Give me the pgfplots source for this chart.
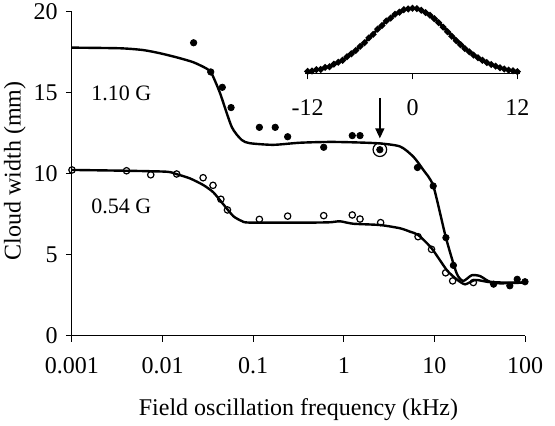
\documentclass[border=0pt]{standalone}
\usepackage{fontspec}
\setmainfont{Liberation Serif}
\usepackage{pgfplots}
\pgfplotsset{compat=1.18}
\usetikzlibrary{arrows.meta}
\begin{document}
\fontsize{12}{14}\selectfont
\begin{tikzpicture}
\useasboundingbox (-36pt,-45pt) rectangle (241.5pt,168pt);
% main plot
\begin{axis}[
  at={(0,0)}, anchor=south west, scale only axis,
  width=226.5pt, height=162pt,
  xmode=log, xmin=0.001, xmax=100, ymin=0, ymax=20,
  axis x line=bottom, axis y line=left,
  axis line style={-, line width=0.5pt},
  xtick={0.001,0.01,0.1,1,10,100},
  xticklabels={0.001,0.01,0.1,1,10,100},
  ytick={0,5,10,15,20},
  xminorticks=false,
  tick align=outside, major tick length=3pt,
  tick style={line width=0.5pt, black},
  /pgf/number format/assume math mode=true,
  xticklabel style={yshift=-3.5pt},
  xlabel={Field oscillation frequency (kHz)},
  ylabel={Cloud width (mm)},
  xlabel style={at={(axis description cs:0.5,0)}, anchor=center, yshift=-37pt},
  ylabel style={at={(axis description cs:-0.126,0.51)}, anchor=center},
  clip=false,
]
% 1.10 G fit
\addplot[black, line width=1.2pt, smooth, tension=0.4] coordinates {
 (0.001,17.8) (0.0034,17.76) (0.0061,17.65) (0.0094,17.45) (0.0143,17.2)
 (0.0218,16.9) (0.0307,16.5) (0.0348,16.2) (0.043,15.0) (0.058,12.9)
 (0.0747,12.1) (0.092,11.9) (0.167,11.8) (0.329,11.93) (0.76,11.98)
 (2.31,11.9) (4.17,11.7) (5.85,11.07) (7.55,10.25) (9.73,9.26)
 (13.4,6.07) (17.6,3.87) (20.8,3.4) (25.8,3.75) (31.9,3.7)
 (41,3.35) (60,3.3) (100,3.3)
};
% 0.54 G fit
\addplot[black, line width=1.2pt, smooth, tension=0.4] coordinates {
 (0.001,10.25) (0.004,10.2) (0.0111,10.14) (0.0141,10.0) (0.020,9.73)
 (0.0281,9.32) (0.0363,8.87) (0.0468,8.13) (0.0603,7.4) (0.0746,7.1)
 (0.092,7.0) (0.424,7.0) (0.705,7.02) (0.909,7.08) (1.27,6.93)
 (2.51,6.85) (4.17,6.65) (5.38,6.44) (6.64,6.23) (9.33,5.41)
 (13.7,4.07) (17.6,3.5) (21.8,3.19) (28.1,3.46) (37.8,3.35)
 (53,3.25) (100,3.3)
};
% 1.10 G data
\addplot[only marks, mark=*, mark size=1.6pt, black] coordinates {
 (0.022,18.1) (0.034,16.3) (0.0456,15.35) (0.057,14.1) (0.117,12.88)
 (0.175,12.88) (0.24,12.3) (0.60,11.65) (1.24,12.37) (1.51,12.37)
 (2.5,11.5) (6.5,10.4) (9.7,9.26) (13.4,6.07) (16.2,4.36)
 (45,3.2) (68,3.1) (82,3.5) (100,3.35)
};
% 0.54 G data
\addplot[only marks, mark=o, mark size=1.6pt, black, line width=0.6pt,
  mark options={fill=white}] coordinates {
 (0.001,10.25) (0.004,10.2) (0.0074,9.95) (0.0143,10.0) (0.028,9.77)
 (0.036,9.3) (0.044,8.44) (0.052,7.78) (0.117,7.2) (0.24,7.4)
 (0.60,7.43) (1.24,7.47) (1.51,7.22) (2.55,7.0) (6.6,6.13)
 (9.3,5.35) (13.3,3.9) (15.9,3.4) (26.9,3.3)
};
% highlighted point
\addplot[only marks, mark=o, mark size=3.4pt, black, line width=0.6pt] coordinates {(2.5,11.5)};
\draw[-{Triangle[length=5pt,width=4.5pt]}, line width=0.7pt] (axis cs:2.5,14.7) -- (axis cs:2.5,12.2);
\node[font=\fontsize{11}{13}\selectfont] at (axis cs:0.0035,15.0) {1.10 G};
\node[font=\fontsize{11}{13}\selectfont] at (axis cs:0.0035,8.0) {0.54 G};
\end{axis}
% inset profile
\begin{axis}[
  at={(116.5pt,131.35pt)}, anchor=south west, scale only axis,
  width=107.5pt, height=34.1pt,
  xmin=-12.3, xmax=12.3, ymin=0, ymax=1.05,
  axis x line=bottom, axis y line=none,
  axis line style={-, line width=0.6pt},
  xtick={-12,0,12}, xticklabels={-12,0,12},
  tick align=outside, major tick length=3pt,
  tick style={line width=0.5pt, black},
  xticklabel style={yshift=-6pt},
  clip=false,
]
\addplot[black, line width=1.3pt, mark=*, mark size=0.9pt] coordinates {
 (-12,0.03) (-11.5,0.035) (-11,0.055) (-10.5,0.06) (-10,0.09) (-9.5,0.10)
 (-9,0.14) (-8.5,0.17) (-8,0.20) (-7.5,0.255) (-7,0.30) (-6.5,0.35)
 (-6,0.415) (-5.5,0.47) (-5,0.545) (-4.5,0.60) (-4,0.68) (-3.5,0.735)
 (-3,0.805) (-2.5,0.85) (-2,0.91) (-1.5,0.94) (-1,0.98) (-0.5,0.99)
 (0,1.0) (0.5,0.995) (1,0.97) (1.5,0.935) (2,0.895) (2.5,0.84)
 (3,0.78) (3.5,0.71) (4,0.64) (4.5,0.57) (5,0.50) (5.5,0.44)
 (6,0.38) (6.5,0.33) (7,0.28) (7.5,0.24) (8,0.20) (8.5,0.165)
 (9,0.135) (9.5,0.11) (10,0.085) (10.5,0.065) (11,0.05) (11.5,0.04) (12,0.025)
};
\addplot[black, line width=0.5pt, smooth] coordinates {
 (-12,0.0286) (-11,0.0504) (-10,0.0847) (-9,0.135) (-8,0.206) (-7,0.298)
 (-6,0.411) (-5,0.539) (-4,0.674) (-3,0.801) (-2,0.906) (-1,0.976)
 (0,1) (1,0.976) (2,0.906) (3,0.801) (4,0.674) (5,0.539) (6,0.411)
 (7,0.298) (8,0.206) (9,0.135) (10,0.0847) (11,0.0504) (12,0.0286)
};
\end{axis}
\end{tikzpicture}
\end{document}
